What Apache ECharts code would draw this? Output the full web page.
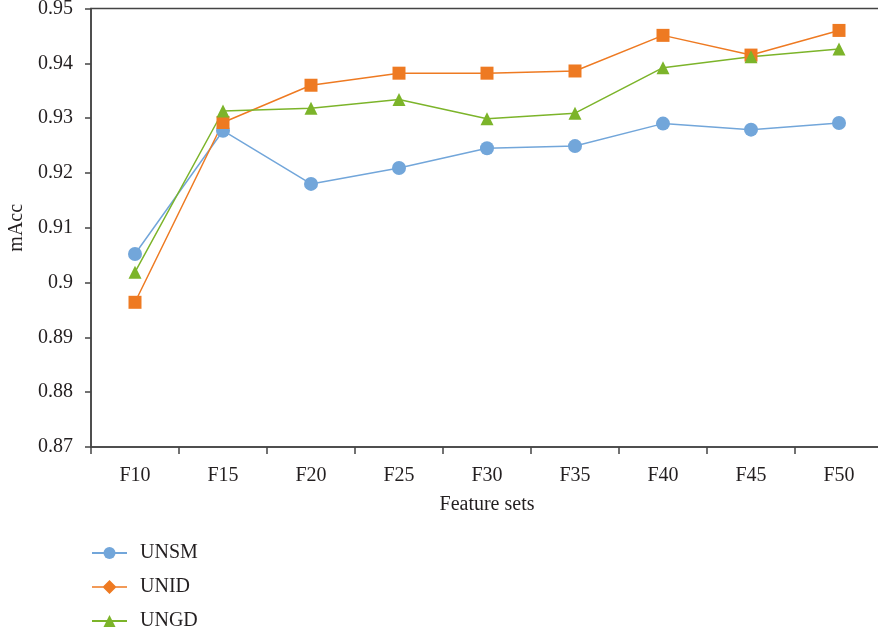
<!DOCTYPE html>
<html>
<head>
<meta charset="utf-8">
<script src="https://cdn.jsdelivr.net/npm/echarts@6/dist/echarts.min.js"></script>
<style>
  html, body { margin: 0; padding: 0; background: #fff; }
  #chart { width: 878px; height: 639px; }
</style>
</head>
<body>
<div id="chart"></div>
<script>
// Feature-set sizes on the x axis
const categories = ['F10', 'F15', 'F20', 'F25', 'F30', 'F35', 'F40', 'F45', 'F50'];

// mAcc per feature set for each method
const unsm = [0.9052, 0.9277, 0.9180, 0.9209, 0.9245, 0.9249, 0.9290, 0.9279, 0.9291];
const unid = [0.8964, 0.9292, 0.9360, 0.9382, 0.9382, 0.9386, 0.9451, 0.9415, 0.9460];
const ungd = [0.9019, 0.9313, 0.9318, 0.9334, 0.9299, 0.9309, 0.9392, 0.9412, 0.9426];

const seriesNames = ['UNSM', 'UNID', 'UNGD'];
const colors = ['#72a6da', '#ee7a22', '#7cb42a'];

const fontFamily = '"Liberation Serif", "DejaVu Serif", serif';
const fontSize = 20;
const textColor = '#231f20';
const axisColor = '#444';

// legend glyph for UNID: a short line with a diamond on it
const diamondIcon = 'path://M0 6.3H35V7.7H0Z M17.5 0L24.5 7L17.5 14L10.5 7Z';

const chart = echarts.init(document.getElementById('chart'), null, { renderer: 'canvas' });

chart.setOption({
  animation: false,
  backgroundColor: '#fff',
  textStyle: { fontFamily: fontFamily, color: textColor },
  // plot frame runs slightly past the right edge of the page
  grid: {
    left: 91, width: 792, top: 8.5, height: 438.5,
    outerBoundsMode: 'none',
    containLabel: false,
    show: true, borderColor: axisColor, borderWidth: 1.5
  },
  xAxis: {
    type: 'category',
    data: categories,
    boundaryGap: true,
    name: 'Feature sets',
    nameLocation: 'middle',
    nameGap: 48,
    nameTextStyle: { fontSize: fontSize, color: textColor, fontFamily: fontFamily },
    axisLine: { lineStyle: { color: axisColor, width: 1.5 } },
    axisTick: { show: true, length: 7, alignWithLabel: false, lineStyle: { color: axisColor, width: 1.5 } },
    axisLabel: { fontSize: fontSize, color: textColor, margin: 19, fontFamily: fontFamily },
    splitLine: { show: false }
  },
  yAxis: {
    type: 'value',
    min: 0.87,
    max: 0.95,
    interval: 0.01,
    name: 'mAcc',
    nameLocation: 'middle',
    nameGap: 63,
    nameTextStyle: { fontSize: fontSize, color: textColor, fontFamily: fontFamily },
    axisLine: { show: true, lineStyle: { color: axisColor, width: 1.5 } },
    axisTick: { show: true, length: 6, lineStyle: { color: axisColor, width: 1.5 } },
    axisLabel: {
      fontSize: fontSize, color: textColor, margin: 18, fontFamily: fontFamily,
      formatter: v => String(parseFloat(v.toFixed(2)))
    },
    splitLine: { show: false }
  },
  legend: {
    orient: 'vertical',
    left: 91,
    top: 543,
    height: 100,
    padding: 0,
    itemWidth: 35,
    itemHeight: 15,
    itemGap: 14,
    textStyle: { fontSize: fontSize, color: textColor, fontFamily: fontFamily, padding: [0, 0, 0, 8] },
    data: [
      { name: 'UNSM' },
      { name: 'UNID', icon: diamondIcon },
      { name: 'UNGD' }
    ]
  },
  series: [
    {
      name: seriesNames[0], type: 'line', data: unsm,
      symbol: 'circle', symbolSize: 14,
      lineStyle: { color: colors[0], width: 1.5 },
      itemStyle: { color: colors[0] }
    },
    {
      name: seriesNames[1], type: 'line', data: unid,
      symbol: 'rect', symbolSize: 13,
      lineStyle: { color: colors[1], width: 1.5 },
      itemStyle: { color: colors[1] }
    },
    {
      name: seriesNames[2], type: 'line', data: ungd,
      symbol: 'triangle', symbolSize: 13,
      lineStyle: { color: colors[2], width: 1.5 },
      itemStyle: { color: colors[2] }
    }
  ]
});
</script>
</body>
</html>
